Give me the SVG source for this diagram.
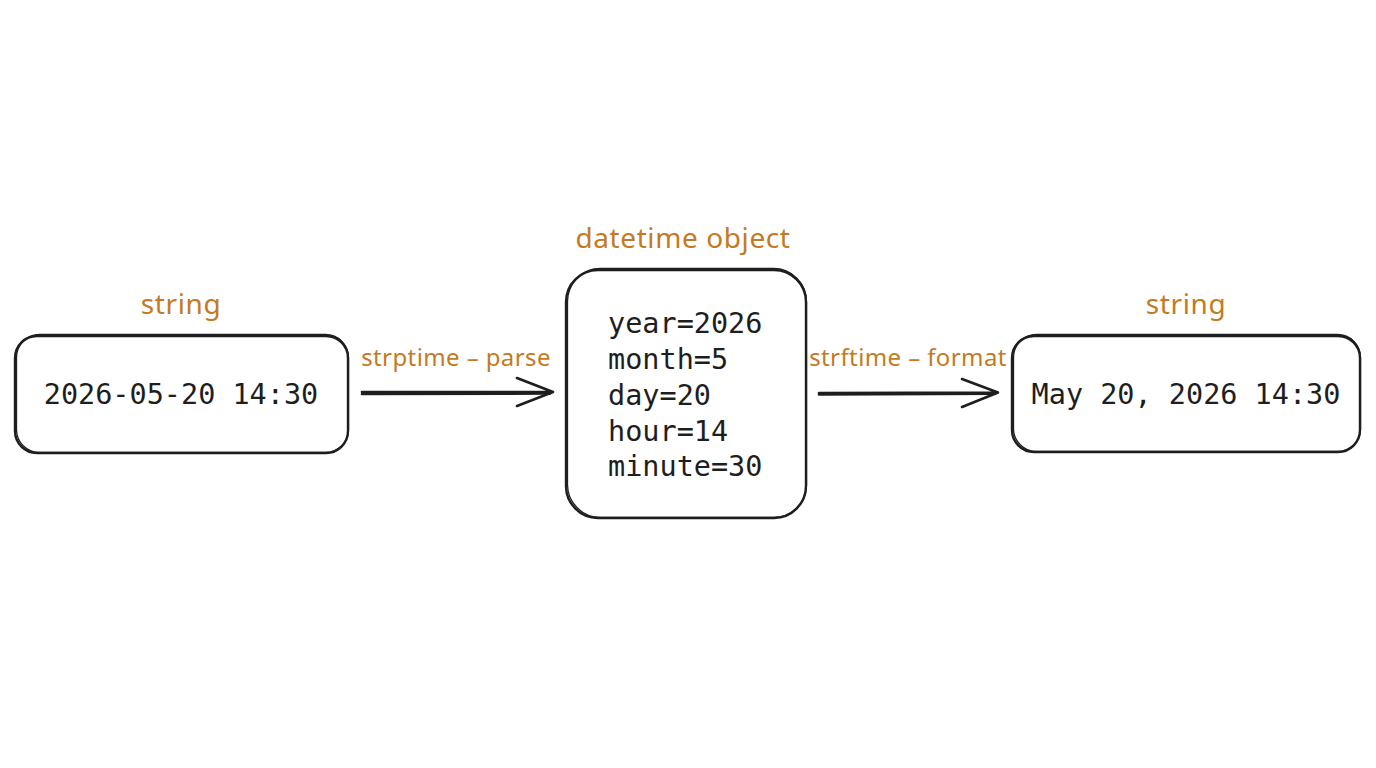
<svg xmlns="http://www.w3.org/2000/svg" width="1376" height="768" viewBox="0 0 1376 768">
<style>
.box{fill:#ffffff;stroke:#1e1e1e;stroke-width:2.4;}
.box2{fill:none;stroke:#1e1e1e;stroke-width:1.3;}
.mono{font-family:"DejaVu Sans Mono","Liberation Mono",monospace;font-size:28.5px;fill:#1e1e1e;}
.lbl{font-family:"Noto Sans","DejaVu Sans",sans-serif;font-size:28px;letter-spacing:0.6px;fill:#c47a22;}
.elbl{font-family:"Noto Sans","DejaVu Sans",sans-serif;font-size:24px;letter-spacing:0.4px;fill:#c47a22;}
.edge{fill:none;stroke:#1e1e1e;stroke-width:2.6;stroke-linecap:round;stroke-linejoin:round;}
</style>
<rect width="1376" height="768" fill="#ffffff"/>
<g id="node-input">
<rect class="box" x="15" y="336" width="333" height="117" rx="22"/>
<rect class="box2" x="16.5" y="334.5" width="332" height="118" rx="23"/>
<text class="lbl" x="181" y="314" text-anchor="middle">string</text>
<text class="mono" x="181" y="404" text-anchor="middle">2026-05-20 14:30</text>
</g>
<g id="node-datetime">
<rect class="box" x="566" y="270" width="240" height="248" rx="32"/>
<rect class="box2" x="567.5" y="268.5" width="239" height="249" rx="33"/>
<text class="lbl" x="683" y="248" text-anchor="middle">datetime object</text>
<text class="mono" x="608" y="333">year=2026</text>
<text class="mono" x="608" y="369">month=5</text>
<text class="mono" x="608" y="405">day=20</text>
<text class="mono" x="608" y="441">hour=14</text>
<text class="mono" x="608" y="476">minute=30</text>
</g>
<g id="node-output">
<rect class="box" x="1012" y="336" width="348" height="116" rx="22"/>
<rect class="box2" x="1013.5" y="334.5" width="347" height="117" rx="23"/>
<text class="lbl" x="1186" y="314" text-anchor="middle">string</text>
<text class="mono" x="1186" y="404" text-anchor="middle">May 20, 2026 14:30</text>
</g>
<g id="connectors">
<path class="edge" d="M362 392 L553 392 M517 378 L553 392 L517 406"/>
<path class="edge" d="M362 394 L550 393.5"/>
<text class="elbl" x="456" y="366" text-anchor="middle">strptime – parse</text>
<path class="edge" d="M819 393 L998 392.5 M962 379 L998 392.5 L962 407"/>
<path class="edge" d="M819 394.5 L995 393.8"/>
<text class="elbl" x="908" y="366" text-anchor="middle">strftime – format</text>
</g>
</svg>
